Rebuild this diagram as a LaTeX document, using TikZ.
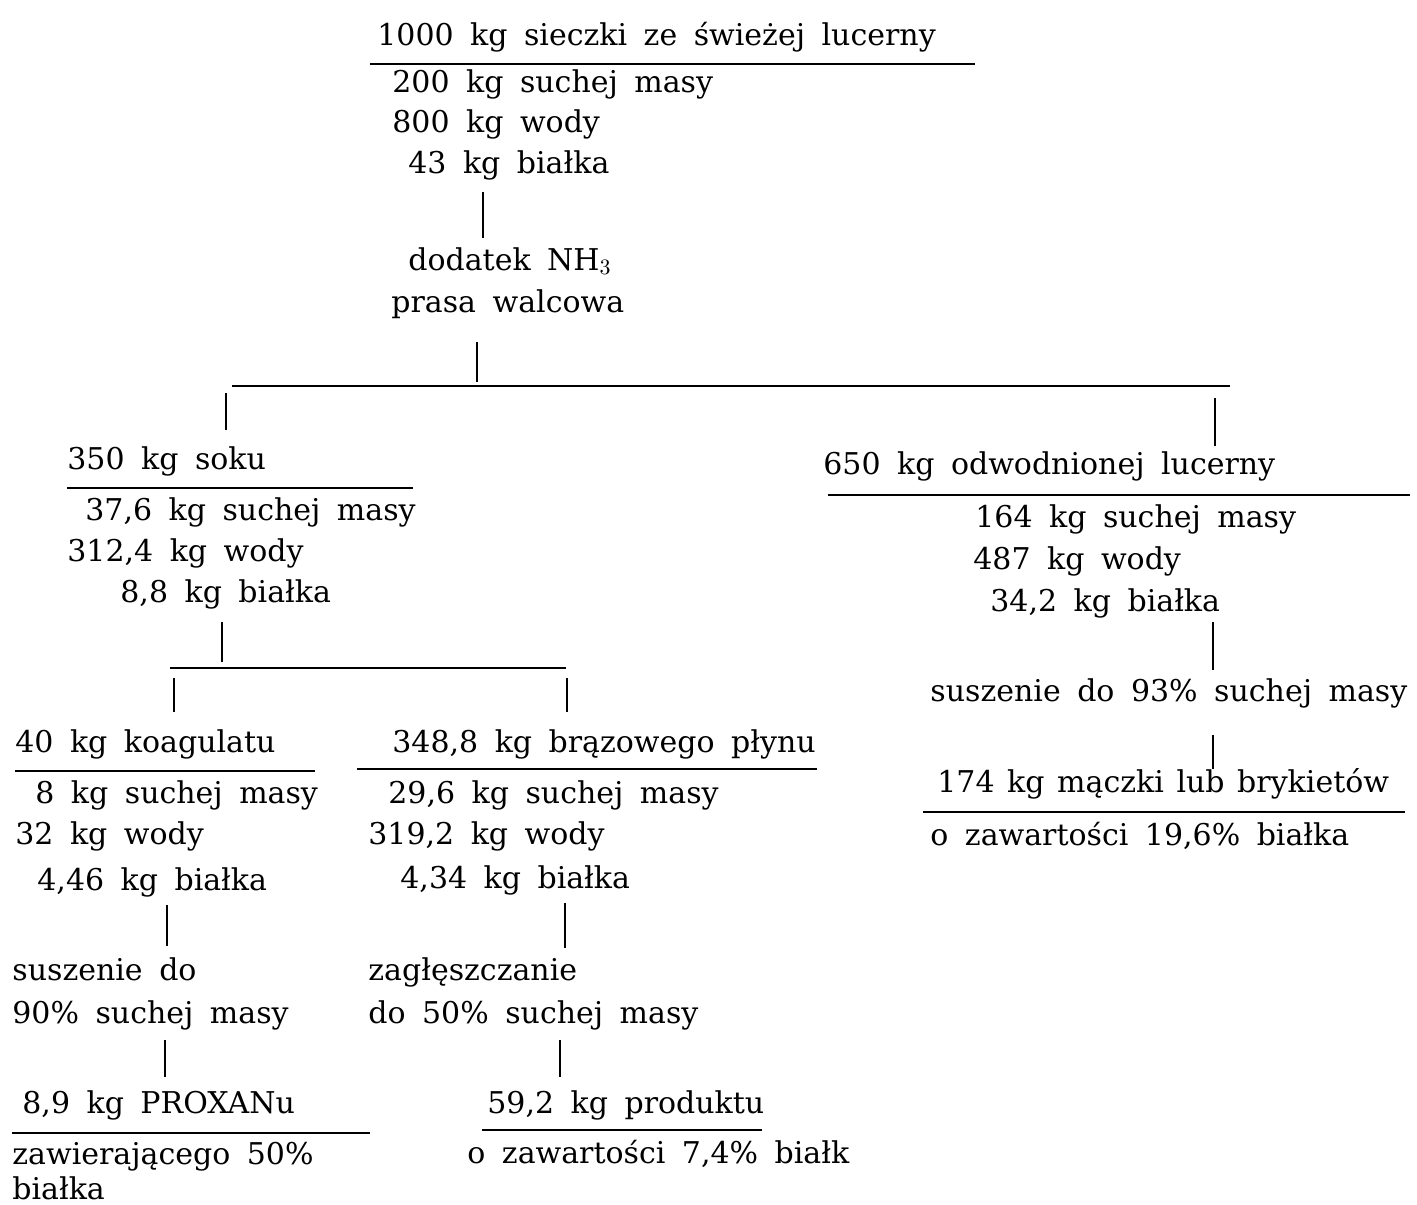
\documentclass[tikz,border=0pt]{standalone}
\usepackage{fontspec}
\setmainfont{DejaVu Serif}
\begin{document}
\begin{tikzpicture}[x=0.5pt,y=-0.5pt,
  txt/.style={anchor=base west,inner sep=0pt,font=\fontsize{15}{18}\selectfont,execute at begin node={\spaceskip=0.55em\relax}},
  tighttxt/.style={txt,execute at begin node={\spaceskip=0.42em\relax}},
  bigtxt/.style={txt,font=\fontsize{16}{19}\selectfont},
  rule/.style={line width=1pt},
  conn/.style={line width=0.8pt}]
\useasboundingbox (0,0) rectangle (1417,1204);
% top block
\node[txt] (t0) at (377,46) {1000 kg sieczki ze świeżej lucerny};
\draw[rule] (370,64) coordinate (r0a) -- (975,64) coordinate (r0b);
\node[txt] (t1) at (392,92) {200 kg suchej masy};
\node[txt] (t2) at (392,133) {800 kg wody};
\node[txt] (t3) at (408,173) {43 kg białka};
\draw[conn] (483,192) coordinate (c1a) -- (483,238) coordinate (c1b);
\node[txt] (p1) at (408,270) {dodatek NH$_3$};
\node[txt] (p2) at (391,312) {prasa walcowa};
\draw[conn] (477,342) coordinate (c2a) -- (477,382) coordinate (c2b);
\draw[rule] (232,386) coordinate (h1a) -- (1230,386) coordinate (h1b);
\draw[conn] (226,393) coordinate (c3a) -- (226,430) coordinate (c3b);
\draw[conn] (1215,398) coordinate (c4a) -- (1215,446) coordinate (c4b);
% left block
\node[txt] (l0) at (67,469) {350 kg soku};
\draw[rule] (67,488) coordinate (r1a) -- (413,488) coordinate (r1b);
\node[txt] (l1) at (85,520) {37,6 kg suchej masy};
\node[txt] (l2) at (67,561) {312,4 kg wody};
\node[txt] (l3) at (120,602) {8,8 kg białka};
\draw[conn] (222,622) coordinate (c5a) -- (222,662) coordinate (c5b);
\draw[rule] (170,668) coordinate (h2a) -- (566,668) coordinate (h2b);
\draw[conn] (174,678) coordinate (c6a) -- (174,712) coordinate (c6b);
\draw[conn] (567,678) coordinate (c7a) -- (567,712) coordinate (c7b);
% right block
\node[txt] (q0) at (823,474) {650 kg odwodnionej lucerny};
\draw[rule] (828,495) coordinate (r2a) -- (1410,495) coordinate (r2b);
\node[txt] (q1) at (975,527) {164 kg suchej masy};
\node[txt] (q2) at (973,569) {487 kg wody};
\node[txt] (q3) at (990,611) {34,2 kg białka};
\draw[conn] (1213,622) coordinate (c8a) -- (1213,670) coordinate (c8b);
\node[txt] (q4) at (930,701) {suszenie do 93\% suchej masy};
\draw[conn] (1213,735) coordinate (c9a) -- (1213,769) coordinate (c9b);
\node[tighttxt] (q5) at (937,792) {174 kg mączki lub brykietów};
\draw[rule] (923,812) coordinate (r3a) -- (1405,812) coordinate (r3b);
\node[txt] (q6) at (930,845) {o zawartości 19,6\% białka};
% lower left
\node[txt] (a0) at (15,752) {40 kg koagulatu};
\draw[rule] (15,771) coordinate (r4a) -- (315,771) coordinate (r4b);
\node[txt] (a1) at (35,803) {8 kg suchej masy};
\node[txt] (a2) at (15,844) {32 kg wody};
\node[txt] (a3) at (37,890) {4,46 kg białka};
\draw[conn] (167,905) coordinate (c10a) -- (167,946) coordinate (c10b);
\node[txt] (a4) at (12,980) {suszenie do};
\node[txt] (a5) at (12,1023) {90\% suchej masy};
\draw[conn] (165,1040) coordinate (c11a) -- (165,1077) coordinate (c11b);
\node[txt] (a6) at (22,1113) {8,9 kg PROXANu};
\draw[rule] (12,1133) coordinate (r5a) -- (370,1133) coordinate (r5b);
\node[txt] (a7) at (12,1164) {zawierającego 50\%};
\node[txt] (a8) at (12,1199) {białka};
% lower middle
\node[txt] (b0) at (392,752) {348,8 kg brązowego płynu};
\draw[rule] (357,769) coordinate (r6a) -- (817,769) coordinate (r6b);
\node[txt] (b1) at (388,803) {29,6 kg suchej masy};
\node[txt] (b2) at (368,844) {319,2 kg wody};
\node[txt] (b3) at (400,888) {4,34 kg białka};
\draw[conn] (565,903) coordinate (c12a) -- (565,948) coordinate (c12b);
\node[txt] (b4) at (368,980) {zagłęszczanie};
\node[txt] (b5) at (368,1023) {do 50\% suchej masy};
\draw[conn] (560,1040) coordinate (c13a) -- (560,1077) coordinate (c13b);
\node[txt] (b6) at (487,1113) {59,2 kg produktu};
\draw[rule] (482,1130) coordinate (r7a) -- (762,1130) coordinate (r7b);
\node[txt] (b7) at (467,1163) {o zawartości 7,4\% białk};
\end{tikzpicture}
\end{document}
